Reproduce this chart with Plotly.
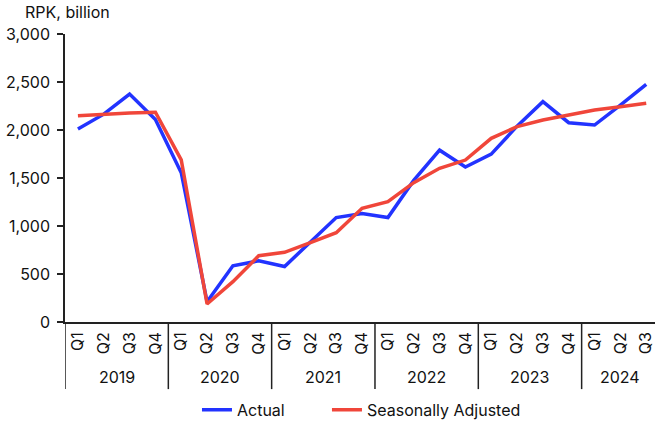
import plotly.graph_objects as go

years = ["2019", "2020", "2021", "2022", "2023", "2024"]
quarters = ["Q1", "Q2", "Q3", "Q4"]
n_last_year = 3
categories = [(y, q) for y in years for q in (quarters if y != "2024" else quarters[:n_last_year])]
quarter_labels = [q for _, q in categories]

actual = [2010, 2165, 2375, 2110,
          1555, 211, 586, 637,
          578, 833, 1088, 1130,
          1088, 1475, 1790, 1615,
          1748, 2040, 2295, 2076,
          2052, 2260, 2476]
seasonally_adjusted = [2149, 2165, 2178, 2185,
                       1688, 187, 420, 690,
                       726, 826, 930, 1184,
                       1253, 1451, 1601, 1687,
                       1913, 2035, 2104, 2156,
                       2208, 2243, 2278]

y_ticks = [0, 500, 1000, 1500, 2000, 2500, 3000]

FONT = "Inter"
FS = 16
x_idx = list(range(len(categories)))

fig = go.Figure()
fig.add_trace(go.Scatter(x=x_idx, y=actual, mode="lines", name="Actual",
                         line=dict(color="#2233ff", width=3.5), legend="legend"))
fig.add_trace(go.Scatter(x=x_idx, y=seasonally_adjusted, mode="lines", name="Seasonally Adjusted",
                         line=dict(color="#f0463a", width=3.5), legend="legend2"))

bottom = -0.233
shapes = []
annotations = []
start = 0
for y in years:
    n = sum(1 for c in categories if c[0] == y)
    shapes.append(dict(type="line", xref="x", yref="paper", x0=start - 0.5, x1=start - 0.5,
                       y0=bottom, y1=0, line=dict(color="#222222", width=1.5)))
    annotations.append(dict(text=y, xref="x", yref="paper", x=start + (n - 1) / 2, y=-0.192,
                            showarrow=False, font=dict(family=FONT, size=FS, color="#111111"),
                            xanchor="center", yanchor="middle"))
    start += n

annotations.append(dict(text="RPK, billion", xref="paper", yref="paper", x=-0.072, y=1.075,
                        xanchor="left", yanchor="middle", showarrow=False,
                        font=dict(family=FONT, size=FS, color="#111111")))

legend_common = dict(orientation="h", xanchor="left", y=-0.305, yanchor="middle",
                     font=dict(family=FONT, size=FS), bgcolor="rgba(0,0,0,0)")

fig.update_layout(
    width=655, height=421,
    margin=dict(l=65, r=0, t=34, b=99, autoexpand=False),
    paper_bgcolor="white", plot_bgcolor="white",
    font=dict(family=FONT, size=FS, color="#111111"),
    xaxis=dict(range=[-0.5, 22.34], tickmode="array", tickvals=x_idx, ticktext=quarter_labels,
               tickangle=-90, showgrid=False, zeroline=False, showline=True, automargin=False,
               linecolor="#222222", linewidth=1.5, ticks="", fixedrange=True,
               ticklabelstandoff=2, ticklabeloverflow="allow"),
    yaxis=dict(range=[0, 3000], tickmode="array", tickvals=y_ticks, automargin=False,
               ticktext=[f"{v:,}" for v in y_ticks], showgrid=False, zeroline=False,
               showline=True, linecolor="#222222", linewidth=1.5, ticks="outside",
               ticklen=6, tickcolor="#222222", tickwidth=1.5, ticklabelstandoff=4),
    legend=dict(x=0.2237, **legend_common),
    legend2=dict(x=0.444, **legend_common),
    shapes=shapes,
    annotations=annotations,
    showlegend=True,
)

fig.write_html("out.html", config={"displayModeBar": False},
               post_script="document.body.style.margin='0';document.body.style.overflow='hidden';")
